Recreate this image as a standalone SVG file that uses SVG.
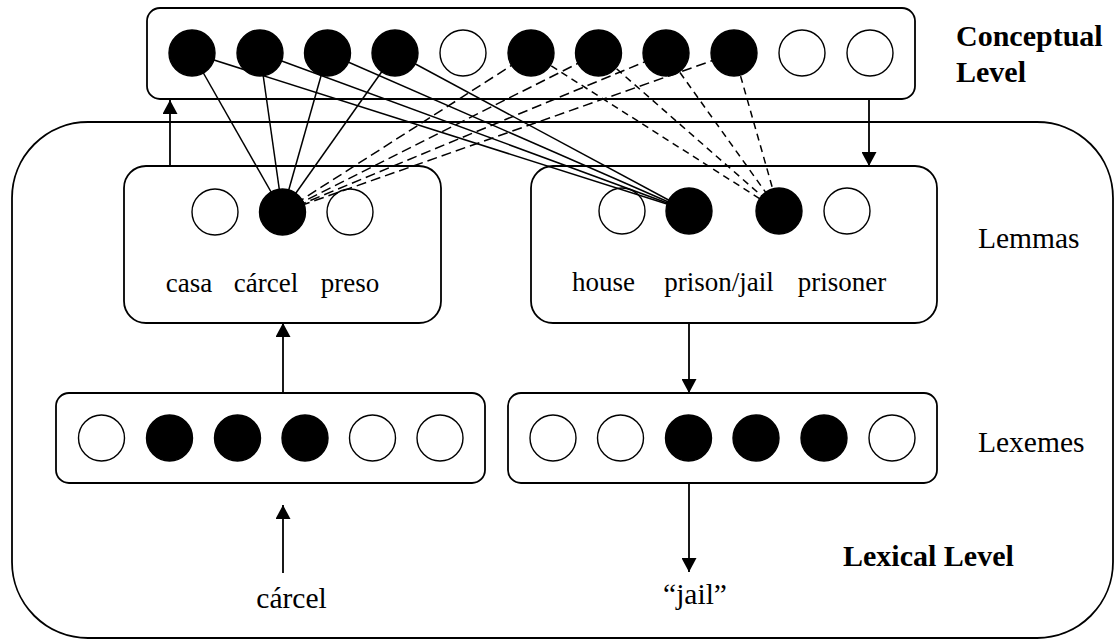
<svg xmlns="http://www.w3.org/2000/svg" width="1115" height="641" viewBox="0 0 1115 641">
  <defs>
    <style>
      .box { fill: #fff; stroke: #000; stroke-width: 1.8; }
      .frame { fill: none; stroke: #000; stroke-width: 1.8; }
      .on { fill: #000; stroke: #000; stroke-width: 1.4; }
      .off { fill: #fff; stroke: #000; stroke-width: 1.4; }
      .link { stroke: #000; stroke-width: 1.5; fill: none; }
      .dash-long { stroke: #000; stroke-width: 1.5; fill: none; stroke-dasharray: 10 5; }
      .dash-short { stroke: #000; stroke-width: 1.5; fill: none; stroke-dasharray: 7 5; }
      .arrow { stroke: #000; stroke-width: 1.8; fill: none; marker-end: url(#head); }
      .word { font-family: "Liberation Serif", "Times New Roman", serif; font-size: 27px; fill: #000; text-anchor: middle; }
      .label { font-family: "Liberation Serif", "Times New Roman", serif; font-size: 29.5px; fill: #000; }
      .level { font-family: "Liberation Serif", "Times New Roman", serif; font-size: 30px; font-weight: bold; fill: #000; }
    </style>
    <marker id="head" viewBox="0 0 14 15" refX="14" refY="7.5" markerWidth="14" markerHeight="15" markerUnits="userSpaceOnUse" orient="auto">
      <path d="M0,0 L14,7.5 L0,15 z" fill="#000"/>
    </marker>
  </defs>

  <!-- lexical level container -->
  <g id="lexical-level">
    <rect class="frame" x="12" y="122" width="1101" height="516" rx="76" ry="76"/>
  </g>

  <!-- conceptual level: eleven concept units -->
  <g id="conceptual">
    <rect class="box" x="147" y="8" width="768" height="91" rx="13" ry="13"/>
    <circle class="on" cx="192" cy="53" r="23"/>
    <circle class="on" cx="260" cy="53" r="23"/>
    <circle class="on" cx="327.5" cy="53" r="23"/>
    <circle class="on" cx="395" cy="53" r="23"/>
    <circle class="off" cx="463" cy="53" r="23"/>
    <circle class="on" cx="531" cy="53" r="23"/>
    <circle class="on" cx="598.5" cy="53" r="23"/>
    <circle class="on" cx="666" cy="53" r="23"/>
    <circle class="on" cx="734" cy="53" r="23"/>
    <circle class="off" cx="802" cy="53" r="23"/>
    <circle class="off" cx="870" cy="53" r="23"/>
  </g>

  <!-- Spanish lemmas -->
  <g id="lemmas-es">
    <rect class="box" x="124" y="166" width="317" height="157" rx="22" ry="22"/>
    <circle class="off" cx="215" cy="212" r="23"/>
    <circle class="on" cx="282.5" cy="212" r="23"/>
    <circle class="off" cx="350" cy="212" r="23"/>
    <text class="word" x="189" y="292">casa</text>
    <text class="word" x="266" y="292">cárcel</text>
    <text class="word" x="350" y="292">preso</text>
  </g>

  <!-- English lemmas -->
  <g id="lemmas-en">
    <rect class="box" x="531" y="166" width="406" height="157" rx="22" ry="22"/>
    <circle class="off" cx="622" cy="211" r="23"/>
    <circle class="on" cx="689" cy="211" r="23"/>
    <circle class="on" cx="779" cy="211" r="23"/>
    <circle class="off" cx="847" cy="211" r="23"/>
    <text class="word" x="603.5" y="291">house</text>
    <text class="word" x="719" y="291">prison/jail</text>
    <text class="word" x="842" y="291">prisoner</text>
  </g>

  <!-- Spanish lexemes -->
  <g id="lexemes-es">
    <rect class="box" x="56" y="393" width="429" height="90" rx="13" ry="13"/>
    <circle class="off" cx="101.5" cy="438" r="23"/>
    <circle class="on" cx="169.5" cy="438" r="23"/>
    <circle class="on" cx="237.5" cy="438" r="23"/>
    <circle class="on" cx="305" cy="438" r="23"/>
    <circle class="off" cx="372.5" cy="438" r="23"/>
    <circle class="off" cx="440" cy="438" r="23"/>
  </g>

  <!-- English lexemes -->
  <g id="lexemes-en">
    <rect class="box" x="508" y="393" width="429" height="90" rx="13" ry="13"/>
    <circle class="off" cx="553" cy="438" r="23"/>
    <circle class="off" cx="620.5" cy="438" r="23"/>
    <circle class="on" cx="688.5" cy="438" r="23"/>
    <circle class="on" cx="756" cy="438" r="23"/>
    <circle class="on" cx="824" cy="438" r="23"/>
    <circle class="off" cx="892" cy="438" r="23"/>
  </g>

  <!-- side labels -->
  <g id="labels">
    <text class="level" x="956" y="46">Conceptual</text>
    <text class="level" x="956" y="82">Level</text>
    <text class="label" x="978" y="248">Lemmas</text>
    <text class="label" x="978" y="452">Lexemes</text>
    <text class="level" x="843" y="566">Lexical Level</text>
  </g>

  <!-- input and output words -->
  <g id="input-word">
    <text class="label" x="291.5" y="608" text-anchor="middle">cárcel</text>
  </g>
  <g id="output-word">
    <text class="label" x="695" y="604" text-anchor="middle">“jail”</text>
  </g>

  <!-- connectors -->
  <g id="connectors">
    <!-- concepts to cárcel -->
    <line class="link" x1="192" y1="53" x2="282.5" y2="212"/>
    <line class="link" x1="260" y1="53" x2="282.5" y2="212"/>
    <line class="link" x1="327.5" y1="53" x2="282.5" y2="212"/>
    <line class="link" x1="395" y1="53" x2="282.5" y2="212"/>
    <!-- concepts to prison/jail -->
    <line class="link" x1="192" y1="53" x2="689" y2="211"/>
    <line class="link" x1="260" y1="53" x2="689" y2="211"/>
    <line class="link" x1="327.5" y1="53" x2="689" y2="211"/>
    <line class="link" x1="395" y1="53" x2="689" y2="211"/>
    <!-- prisoner concepts to cárcel -->
    <line class="dash-long" x1="531" y1="53" x2="282.5" y2="212"/>
    <line class="dash-long" x1="598.5" y1="53" x2="282.5" y2="212"/>
    <line class="dash-long" x1="666" y1="53" x2="282.5" y2="212"/>
    <line class="dash-long" x1="734" y1="53" x2="282.5" y2="212"/>
    <!-- prisoner concepts to prisoner -->
    <line class="dash-short" x1="531" y1="53" x2="779" y2="211"/>
    <line class="dash-short" x1="598.5" y1="53" x2="779" y2="211"/>
    <line class="dash-short" x1="666" y1="53" x2="779" y2="211"/>
    <line class="dash-short" x1="734" y1="53" x2="779" y2="211"/>

    <!-- flow arrows -->
    <line class="arrow" x1="170" y1="166" x2="170" y2="100"/>
    <line class="arrow" x1="869" y1="99" x2="869" y2="166"/>
    <line class="arrow" x1="283" y1="393" x2="283" y2="323"/>
    <line class="arrow" x1="689" y1="323" x2="689" y2="393"/>
    <line class="arrow" x1="283" y1="573" x2="283" y2="505"/>
    <line class="arrow" x1="689" y1="483" x2="689" y2="572"/>
  </g>
</svg>
